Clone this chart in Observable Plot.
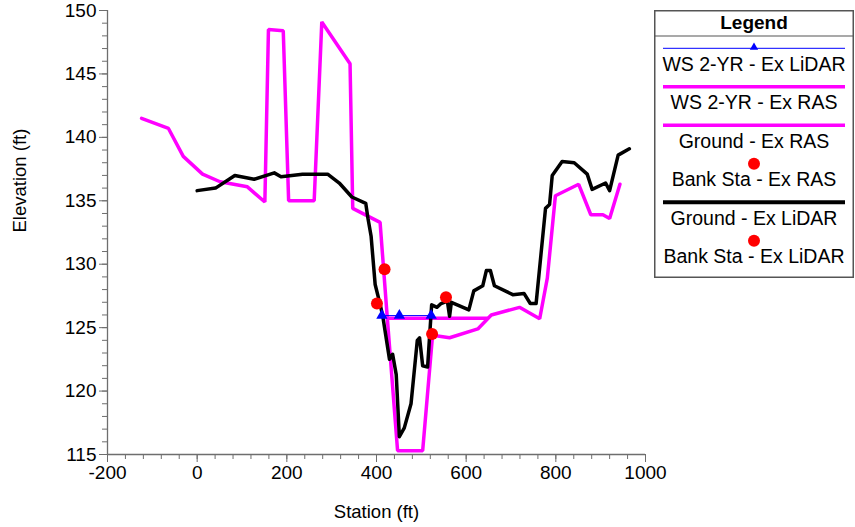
<!DOCTYPE html>
<html>
<head>
<meta charset="utf-8">
<script src="https://cdn.jsdelivr.net/npm/d3@7"></script>
<script src="https://cdn.jsdelivr.net/npm/@observablehq/plot@0.6"></script>
<style>
  html, body { margin: 0; padding: 0; background: #fff; }
  #wrap { position: relative; width: 855px; height: 527px; font-family: "Liberation Sans", Arial, sans-serif; }
  #legend { position: absolute; left: 654px; top: 10px; }
</style>
</head>
<body>
<div id="wrap"><div id="legend"></div></div>
<script>
// Ground - Ex RAS (magenta)
const rasGroundStation = [-124, -64, -31, 12, 51, 112, 151, 159, 192, 204, 261, 278, 341, 347, 408, 424, 447, 503, 525, 563, 626, 656, 719, 764, 781, 799, 851, 878, 905, 920, 943];
const rasGroundElev    = [141.5, 140.7, 138.5, 137.1, 136.5, 136.1, 134.9, 148.5, 148.4, 135.0, 135.0, 149.1, 145.8, 134.4, 133.3, 125.8, 115.3, 115.3, 124.4, 124.2, 124.9, 126.0, 126.6, 125.7, 128.9, 135.4, 136.3, 133.9, 133.9, 133.6, 136.3];

// Ground - Ex LiDAR (black)
const lidarGroundStation = [0, 41, 84, 127, 172, 187, 235, 291, 317, 345, 376, 381, 388, 397, 409, 414, 429, 436, 444, 451, 462, 477, 491, 496, 503, 514, 523, 535, 544, 558, 563, 567, 606, 617, 637, 645, 654, 663, 704, 729, 743, 756, 777, 786, 792, 814, 841, 870, 881, 911, 920, 939, 964];
const lidarGroundElev    = [135.8, 136.0, 137.0, 136.7, 137.2, 136.9, 137.1, 137.1, 136.4, 135.3, 134.8, 133.6, 132.2, 128.4, 126.7, 125.9, 122.5, 122.9, 121.3, 116.4, 117.1, 119.0, 124.0, 124.2, 122.0, 121.9, 126.8, 126.6, 126.9, 127.1, 125.9, 127.0, 126.4, 127.9, 128.3, 129.5, 129.5, 128.3, 127.6, 127.7, 126.9, 126.9, 134.4, 134.7, 137.0, 138.1, 138.0, 137.1, 135.9, 136.4, 135.8, 138.6, 139.1];

// WS 2-YR - Ex RAS (magenta)
const wsRasStation = [424, 647];
const wsRasElev    = [125.75, 125.75];

// WS 2-YR - Ex LiDAR (blue, triangles)
const wsLidarStation = [412, 451, 522];
const wsLidarElev    = [125.95, 125.95, 125.95];

// Bank stations
const bankRasStation = [418, 524];
const bankRasElev    = [129.6, 124.5];
const bankLidarStation = [401, 555];
const bankLidarElev    = [126.9, 127.4];

// Axes
const xMajorTicks = d3.range(-200, 1001, 200);
const xMinorTicks = d3.range(-200, 1001, 40);
const yMajorTicks = d3.range(115, 151, 5);
const yMinorTicks = d3.range(115, 151, 1);
const xTitle = "Station (ft)";
const yTitle = "Elevation (ft)";

// Legend
const legendTitle = "Legend";
const legendItems = [
  {label: "WS 2-YR - Ex LiDAR", kind: "lineTri", color: "#0000ff", width: 1},
  {label: "WS 2-YR - Ex RAS", kind: "line", color: "#ff00ff", width: 3.5},
  {label: "Ground - Ex RAS", kind: "line", color: "#ff00ff", width: 3.5},
  {label: "Bank Sta - Ex RAS", kind: "dot", color: "#ff0000"},
  {label: "Ground - Ex LiDAR", kind: "line", color: "#000000", width: 4},
  {label: "Bank Sta - Ex LiDAR", kind: "dot", color: "#ff0000"}
];

const zip = (xs, ys) => xs.map((x, i) => ({x, y: ys[i]}));
const axisColor = "#6e6e6e";
const fmt = d => String(d);

const chart = Plot.plot({
  width: 855,
  height: 527,
  marginLeft: 107,
  marginRight: 210,
  marginTop: 10,
  marginBottom: 73,
  style: {fontFamily: "'Liberation Sans', Arial, sans-serif", fontSize: "19px", color: "#000", background: "transparent"},
  x: {domain: [-200, 1000]},
  y: {domain: [115, 150]},
  marks: [
    Plot.axisX({ticks: xMinorTicks, tickSize: 5, tickFormat: () => "", label: null, stroke: axisColor}),
    Plot.axisX({ticks: xMajorTicks, tickSize: 8, tickPadding: 3, tickFormat: fmt, label: null, stroke: axisColor, fill: "#000", fontSize: 19}),
    Plot.axisY({ticks: yMinorTicks, tickSize: 5, tickFormat: () => "", label: null, stroke: axisColor}),
    Plot.axisY({ticks: yMajorTicks, tickSize: 8, tickPadding: 3, tickFormat: fmt, label: null, stroke: axisColor, fill: "#000", fontSize: 19}),
    Plot.ruleY([115], {stroke: axisColor, strokeWidth: 1.3}),
    Plot.ruleX([-200], {stroke: axisColor, strokeWidth: 1.3}),
    Plot.line(zip(rasGroundStation, rasGroundElev), {x: "x", y: "y", stroke: "#ff00ff", strokeWidth: 3.5, strokeLinejoin: "miter"}),
    Plot.line(zip(wsRasStation, wsRasElev), {x: "x", y: "y", stroke: "#ff00ff", strokeWidth: 3.5}),
    Plot.line(zip(lidarGroundStation, lidarGroundElev), {x: "x", y: "y", stroke: "#000", strokeWidth: 3.5}),
    Plot.line(zip(wsLidarStation, wsLidarElev), {x: "x", y: "y", stroke: "#0000ff", strokeWidth: 1}),
    Plot.dot(zip(wsLidarStation, wsLidarElev), {x: "x", y: "y", symbol: "triangle", r: 4.2, fill: "#0000ff", stroke: "none"}),
    Plot.dot(zip(bankRasStation, bankRasElev), {x: "x", y: "y", r: 6, fill: "#ff0000", stroke: "none"}),
    Plot.dot(zip(bankLidarStation, bankLidarElev), {x: "x", y: "y", r: 6, fill: "#ff0000", stroke: "none"}),
    Plot.text([xTitle], {frameAnchor: "bottom", dy: 58, fontSize: 18.5, fill: "#000", lineAnchor: "middle"}),
    Plot.text([yTitle], {frameAnchor: "left", dx: -87, rotate: -90, fontSize: 18.5, fill: "#000", lineAnchor: "middle"})
  ]
});
document.getElementById("wrap").prepend(chart);

// Legend box
const lw = 200, lh = 268;
const lsvg = d3.select("#legend").append("svg")
  .attr("width", lw).attr("height", lh)
  .style("font-family", "'Liberation Sans', Arial, sans-serif")
  .style("display", "block");
lsvg.append("rect").attr("x", 0.75).attr("y", 0.75).attr("width", lw - 1.5).attr("height", lh - 1.5)
  .attr("fill", "#fff").attr("stroke", "#555").attr("stroke-width", 1.5);
lsvg.append("text").attr("x", lw / 2).attr("y", 12.5).attr("dy", "0.35em")
  .attr("text-anchor", "middle").attr("font-size", 19).attr("font-weight", "bold").text(legendTitle);
lsvg.append("line").attr("x1", 0).attr("x2", lw).attr("y1", 26).attr("y2", 26).attr("stroke", "#555").attr("stroke-width", 1.2);
legendItems.forEach((d, i) => {
  const sy = 38.3 + 38.5 * i;
  const g = lsvg.append("g");
  if (d.kind === "line" || d.kind === "lineTri") {
    g.append("line").attr("x1", 9).attr("x2", 191).attr("y1", sy).attr("y2", sy)
      .attr("stroke", d.color).attr("stroke-width", d.width);
  }
  if (d.kind === "lineTri") {
    g.append("path").attr("d", d3.symbol(d3.symbolTriangle, 30)()).attr("transform", `translate(100,${sy - 1})`).attr("fill", d.color);
  }
  if (d.kind === "dot") {
    g.append("circle").attr("cx", 100).attr("cy", sy).attr("r", 6).attr("fill", d.color);
  }
  g.append("text").attr("x", lw / 2).attr("y", sy + 15.5).attr("dy", "0.35em")
    .attr("text-anchor", "middle").attr("font-size", 19.5).text(d.label);
});
</script>
</body>
</html>
